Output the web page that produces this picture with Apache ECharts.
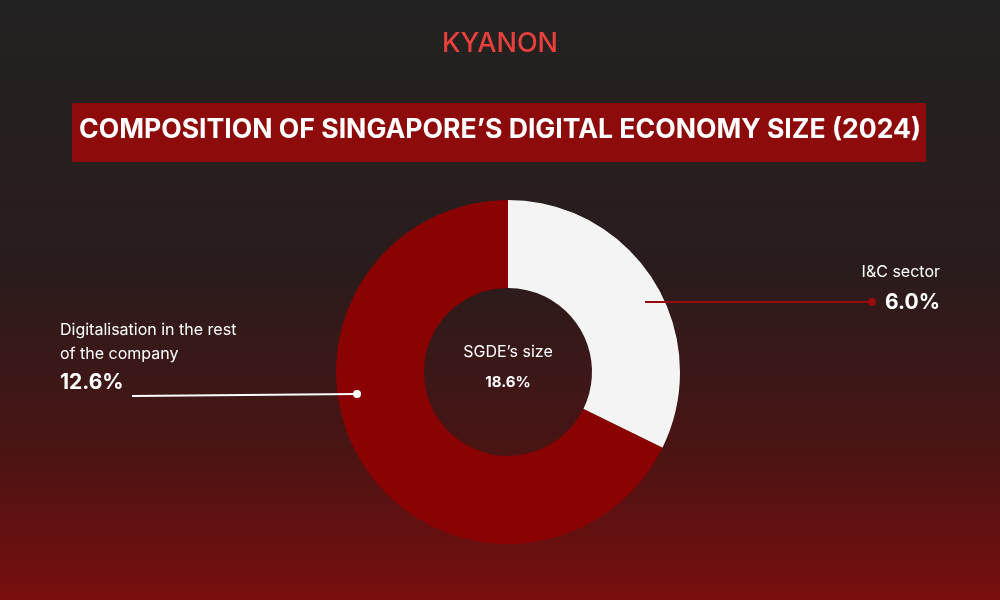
<!DOCTYPE html>
<html>
<head>
<meta charset="utf-8">
<script src="https://cdn.jsdelivr.net/npm/echarts@6/dist/echarts.min.js"></script>
<style>html,body{margin:0;padding:0;}#chart{width:1000px;height:600px;}</style>
</head>
<body>
<div id="chart"></div>
<script>
// data
var categories = ['I&C sector', 'Digitalisation in the rest\nof the company']
var values = [6.0, 12.6]
var total = 18.6

var myChart = echarts.init(document.getElementById('chart'))
var font = 'Inter, "Noto Sans", sans-serif'

var option = {
    backgroundColor: {
        type: 'linear', x: 0, y: 0, x2: 0, y2: 1,
        colorStops: [
            { offset: 0, color: '#232222' },
            { offset: 0.45, color: '#2a1c1c' },
            { offset: 0.75, color: '#4a1414' },
            { offset: 1, color: '#7a0e0e' }
        ]
    },
    graphic: [
        { type: 'text', left: 'center', top: 30, style: { text: 'KYANON', fill: '#e8403a', font: '500 27px ' + font } },
        { type: 'rect', shape: { x: 72, y: 103, width: 854, height: 59 }, style: { fill: '#8e0b0b' } },
        { type: 'text', left: 'center', top: 116, style: { text: 'COMPOSITION OF SINGAPORE’S DIGITAL ECONOMY SIZE (2024)', fill: '#fff', font: 'bold 26.6px ' + font } },
        // right annotation
        { type: 'line', z: 10, shape: { x1: 645, y1: 302, x2: 872, y2: 302 }, style: { stroke: '#9a0c0c', lineWidth: 2 } },
        { type: 'circle', z: 10, shape: { cx: 872, cy: 302, r: 4 }, style: { fill: '#9a0c0c' } },
        { type: 'text', right: 60, top: 264, style: { text: categories[0], fill: '#fff', font: '16px ' + font } },
        { type: 'text', right: 60, top: 292, style: { text: values[0].toFixed(1) + '%', fill: '#fff', font: 'bold 21px ' + font } },
        // left annotation
        { type: 'line', z: 10, shape: { x1: 132, y1: 396, x2: 357, y2: 394 }, style: { stroke: '#fff', lineWidth: 2 } },
        { type: 'circle', z: 10, shape: { cx: 357, cy: 394, r: 4 }, style: { fill: '#fff' } },
        { type: 'text', left: 60, top: 318, style: { text: categories[1], fill: '#fff', font: '16px ' + font, lineHeight: 24 } },
        { type: 'text', left: 60, top: 372, style: { text: values[1].toFixed(1) + '%', fill: '#fff', font: 'bold 21px ' + font } },
        // center
        { type: 'text', x: 508, y: 352, style: { text: 'SGDE’s size', fill: '#fff', font: '16px ' + font, align: 'center', verticalAlign: 'middle' } },
        { type: 'text', x: 508, y: 382, style: { text: total.toFixed(1) + '%', fill: '#fff', font: 'bold 15px ' + font, align: 'center', verticalAlign: 'middle' } }
    ],
    series: [{
        type: 'pie',
        z: 2,
        center: [508, 372],
        radius: [84, 172],
        startAngle: 90,
        clockwise: true,
        silent: true,
        label: { show: false },
        labelLine: { show: false },
        data: [
            { name: categories[0], value: values[0], itemStyle: { color: '#f5f4f4' } },
            { name: categories[1], value: values[1], itemStyle: { color: '#8a0202' } }
        ]
    }]
}
myChart.setOption(option)
</script>
</body>
</html>
